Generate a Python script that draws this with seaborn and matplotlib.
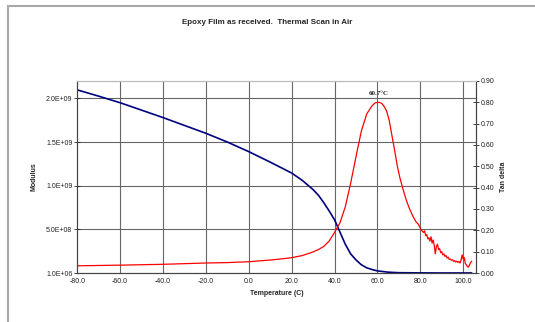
import numpy as np
import pandas as pd
import matplotlib
matplotlib.use("Agg")
import matplotlib.pyplot as plt
import matplotlib.patches as mpatches
import seaborn as sns

# ==========================================
# DATA
# ==========================================
mod_temp = [-80, -70, -60, -50, -40, -30, -20, -10, 0, 10, 20, 25,
            30, 32.5, 35, 37.5, 40, 42.5, 45, 47.5, 50, 52.5, 55, 57.5,
            60, 65, 70, 80, 90, 100, 104]
mod_e9 = [2.097, 2.025, 1.95, 1.865, 1.78, 1.69, 1.60, 1.50, 1.39, 1.27, 1.145, 1.06,
          0.955, 0.89, 0.805, 0.71, 0.61, 0.47, 0.33, 0.22, 0.15, 0.095, 0.06, 0.04,
          0.025, 0.01, 0.004, 0.002, 0.001, 0.001, 0.001]

tan_temp = [-80, -60, -40, -20, -10, 0, 10, 15, 20, 25, 28, 30, 32.5, 35, 37.5,
            40, 42.5, 45, 47.5, 50, 52.5, 55, 57.5, 59, 60.7, 62, 63, 64.3, 65.5,
            66.6, 68, 69.3, 70.5, 72, 73.5, 75, 76.7, 78, 79, 80, 80.6, 81.5, 82,
            82.5, 83, 83.5, 84, 84.5, 85, 85.5, 86, 86.5, 87, 87.5, 88, 88.5, 89,
            89.5, 90, 90.5, 91, 91.5, 92, 92.5, 93, 93.5, 94, 94.5, 95, 95.5, 96,
            96.5, 97, 97.5, 98, 98.5, 99, 99.5, 100, 100.5, 101, 101.5, 102,
            102.5, 103, 103.5, 104]
tan_delta = [0.034, 0.037, 0.041, 0.047, 0.049, 0.053, 0.061, 0.066, 0.072, 0.082,
             0.092, 0.099, 0.11, 0.125, 0.15, 0.19, 0.235, 0.31, 0.42, 0.545, 0.665,
             0.745, 0.783, 0.797, 0.80, 0.794, 0.782, 0.758, 0.715, 0.653, 0.575, 0.50,
             0.445, 0.39, 0.34, 0.30, 0.263, 0.24, 0.23, 0.21, 0.20, 0.19, 0.198,
             0.175, 0.18, 0.16, 0.165, 0.15, 0.17, 0.14, 0.155, 0.13, 0.09, 0.125,
             0.135, 0.11, 0.115, 0.095, 0.10, 0.085, 0.09, 0.078, 0.082, 0.07, 0.075,
             0.064, 0.066, 0.06, 0.062, 0.055, 0.058, 0.052, 0.056, 0.05, 0.054,
             0.047, 0.06, 0.085, 0.065, 0.072, 0.045, 0.038, 0.03, 0.028, 0.04,
             0.05, 0.055]

x_ticks = [-80, -60, -40, -20, 0, 20, 40, 60, 80, 100]
mod_ticks = [1e6, 5.01e8, 1.001e9, 1.501e9, 2.001e9]
tan_ticks = [0.0, 0.1, 0.2, 0.3, 0.4, 0.5, 0.6, 0.7, 0.8, 0.9]

peak_temp = 60.7
peak_label = "60.7°C"

mod_df = pd.DataFrame({"Temperature": mod_temp, "Modulus": np.array(mod_e9) * 1e9 + 1e6})
tan_df = pd.DataFrame({"Temperature": tan_temp, "Tan delta": tan_delta})

# ==========================================
# STYLE
# ==========================================
sns.set_style("white")
plt.rcParams["font.family"] = ["Liberation Sans", "DejaVu Sans"]

fig = plt.figure(figsize=(5.35, 3.22), dpi=100)
ax1 = fig.add_axes([0.1445, 0.152, 0.7445, 0.597])
ax2 = ax1.twinx()

grid_col = "#666666"

# Modulus (left axis)
sns.lineplot(data=mod_df, x="Temperature", y="Modulus", ax=ax1, color="#000080",
             linewidth=1.2, estimator=None, sort=False)
# Tan delta (right axis)
sns.lineplot(data=tan_df, x="Temperature", y="Tan delta", ax=ax2, color="#FF0000",
             linewidth=0.9, estimator=None, sort=False)

ax1.set_xlim(-80, 105.8)
ax1.set_ylim(1e6, 2.202e9)
ax2.set_ylim(0, 0.9)

ax1.set_xticks(x_ticks)
ax1.set_xticklabels([f"{t:.1f}" for t in x_ticks])
ax1.set_yticks(mod_ticks)
ax1.set_yticklabels([f"{v:.1E}" for v in mod_ticks])
ax2.set_yticks(tan_ticks)
ax2.set_yticklabels([f"{v:.2f}" for v in tan_ticks])

# gridlines
for t in x_ticks[1:]:
    ax1.axvline(t, color=grid_col, linewidth=0.8, zorder=0)
for v in mod_ticks[1:]:
    ax1.axhline(v, color=grid_col, linewidth=0.8, zorder=0)

for ax in (ax1, ax2):
    ax.tick_params(axis="both", labelsize=5, colors="#222222", direction="inout",
                   length=4, width=0.6, pad=1.5)
    for s in ax.spines.values():
        s.set_linewidth(0.8)
        s.set_color("#444444")
    ax.spines["top"].set_color("#bbbbbb")

ax1.set_xlabel("Temperature (C)", fontsize=5, fontweight="bold", labelpad=4)
ax1.set_ylabel("Modulus", fontsize=5, fontweight="bold", labelpad=6)
ax2.set_ylabel("Tan delta", fontsize=5, fontweight="bold", labelpad=4)

ax2.text(peak_temp, 0.842, peak_label, ha="center", va="center", fontsize=5,
         fontweight="bold", family=["Liberation Serif", "DejaVu Serif"])

fig.text(0.5, 0.93, "Epoxy Film as received.  Thermal Scan in Air", ha="center",
         va="center", fontsize=5.8, fontweight="bold")

# chart area border
fig.patches.append(mpatches.Rectangle((8 / 535, -0.1), 1.1, 1.1 - 6 / 322,
                                      transform=fig.transFigure, fill=False,
                                      edgecolor="#a8a8a8", linewidth=1.5))

fig.savefig("out.png", dpi=100)
